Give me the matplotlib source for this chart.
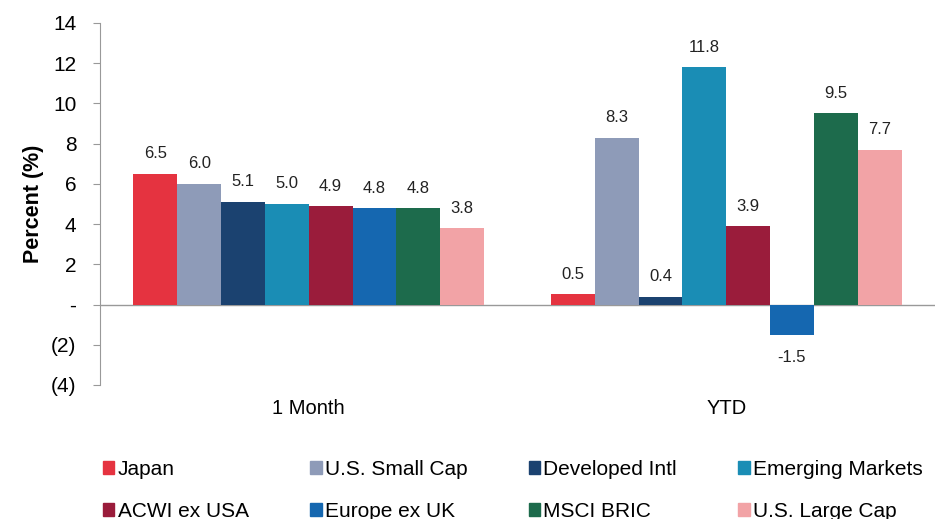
import matplotlib
matplotlib.use("Agg")
import matplotlib.pyplot as plt
import numpy as np
from matplotlib.patches import Patch

plt.rcParams['font.family'] = ['Liberation Sans', 'DejaVu Sans']

categories = ["1 Month", "YTD"]
series = ["Japan", "U.S. Small Cap", "Developed Intl", "Emerging Markets",
          "ACWI ex USA", "Europe ex UK", "MSCI BRIC", "U.S. Large Cap"]
month_vals = [6.5, 6.0, 5.1, 5.0, 4.9, 4.8, 4.8, 3.8]
ytd_vals = [0.5, 8.3, 0.4, 11.8, 3.9, -1.5, 9.5, 7.7]
colors = ["#E53340", "#8E9BB8", "#1B4270", "#1A8DB5",
          "#9A1C3B", "#1567B0", "#1D6B4C", "#F2A3A6"]
yticks = [-4, -2, 0, 2, 4, 6, 8, 10, 12, 14]
ytick_labels = ["(4)", "(2)", "-", "2", "4", "6", "8", "10", "12", "14"]

fig = plt.figure(figsize=(9.41, 5.19), dpi=100)
ax = fig.add_axes([0.1063, 0.2582, 0.8873, 0.6975])

x = np.arange(len(categories))
n = len(series)
w = 0.105
handles = []
for i, name in enumerate(series):
    vals = [month_vals[i], ytd_vals[i]]
    pos = x + (i - (n - 1) / 2) * w
    ax.bar(pos, vals, width=w, color=colors[i], label=name, zorder=2)
    handles.append(Patch(color=colors[i], label=name))
    for p, v in zip(pos, vals):
        off = 9 if v >= 0 else -11
        ax.annotate(f"{v:.1f}", (p, v), xytext=(0, off), textcoords="offset points",
                    ha="center", va="bottom" if v >= 0 else "top", fontsize=12, color="#222222")

ax.set_xlim(-0.5, 1.5)
ax.set_ylim(-4, 14)
ax.set_yticks(yticks)
ax.set_yticklabels(ytick_labels, fontsize=15)
ax.set_xticks(x)
ax.set_xticklabels(categories, fontsize=14.5)
ax.tick_params(axis='x', length=0, pad=10)
ax.tick_params(axis='y', length=5, color="#999999", direction="out", pad=12)
ax.axhline(0, color="#999999", lw=1, zorder=1)
for s in ["top", "right", "bottom"]:
    ax.spines[s].set_visible(False)
ax.spines["left"].set_color("#999999")
ax.set_ylabel("Percent (%)", fontsize=15.5, fontweight="bold", labelpad=5)

order = [0, 4, 1, 5, 2, 6, 3, 7]
fig.legend([handles[k] for k in order], [series[k] for k in order], ncol=4,
           loc="upper left", bbox_to_anchor=(0.1095, 0.114), frameon=False,
           fontsize=15, handlelength=0.55, handleheight=0.55, handletextpad=0.15,
           columnspacing=2.95, labelspacing=1.1, borderaxespad=0, borderpad=0)

fig.savefig("out.png", dpi=100, facecolor="white")
